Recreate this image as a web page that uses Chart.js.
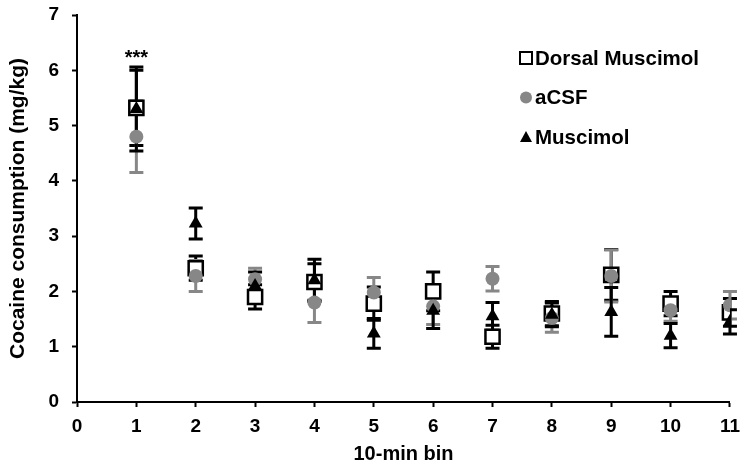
<!DOCTYPE html>
<html>
<head>
<meta charset="utf-8">
<script src="https://cdn.jsdelivr.net/npm/chart.js@4"></script>
<style>
  html, body { margin: 0; padding: 0; background: #fff; }
  #wrap { width: 748px; height: 470px; }
</style>
</head>
<body>
<div id="wrap"><canvas id="cocaineChart"></canvas></div>
<script>
// values
const bins = [1, 2, 3, 4, 5, 6, 7, 8, 9, 10, 11];
const dorsalMean = [5.32, 2.42, 1.90, 2.17, 1.78, 2.00, 1.18, 1.60, 2.30, 1.78, 1.62];
const dorsalErr  = [0.68, 0.22, 0.22, 0.33, 0.30, 0.35, 0.21, 0.22, 0.46, 0.22, 0.25];
const acsfMean   = [4.80, 2.28, 2.22, 1.80, 1.98, 1.73, 2.23, 1.52, 2.28, 1.66, 1.75];
const acsfErr    = [0.65, 0.28, 0.20, 0.36, 0.27, 0.33, 0.22, 0.26, 0.47, 0.20, 0.25];
const muscMean   = [5.30, 3.23, 2.10, 2.20, 1.24, 1.65, 1.55, 1.58, 1.63, 1.20, 1.45];
const muscErr    = [0.76, 0.28, 0.25, 0.38, 0.27, 0.32, 0.25, 0.22, 0.44, 0.22, 0.22];
const xTicks = [0, 1, 2, 3, 4, 5, 6, 7, 8, 9, 10, 11];
const yTicks = [0, 1, 2, 3, 4, 5, 6, 7];
const sigLabel = '***';
const sigBin = 1;
const sigY = 6.22;

const FONT = '"Liberation Sans", Arial, sans-serif';
const GREY = '#878787';

function pts(means) {
    return bins.map((b, i) => ({ x: b, y: means[i] }));
}

// error bars drawn under the markers
const errorBars = {
    id: 'errorBars',
    beforeDatasetsDraw(chart) {
        const ctx = chart.ctx;
        const xs = chart.scales.x, ys = chart.scales.y;
        const sets = [
            { m: dorsalMean, e: dorsalErr, c: '#000' },
            { m: acsfMean, e: acsfErr, c: GREY },
            { m: muscMean, e: muscErr, c: '#000' }
        ];
        ctx.save();
        ctx.lineWidth = 3;
        sets.forEach(s => {
            ctx.strokeStyle = s.c;
            bins.forEach((b, i) => {
                const px = xs.getPixelForValue(b);
                const top = ys.getPixelForValue(s.m[i] + s.e[i]);
                const bot = ys.getPixelForValue(s.m[i] - s.e[i]);
                ctx.beginPath();
                ctx.moveTo(px, top); ctx.lineTo(px, bot);
                ctx.moveTo(px - 7, top); ctx.lineTo(px + 7, top);
                ctx.moveTo(px - 7, bot); ctx.lineTo(px + 7, bot);
                ctx.stroke();
            });
        });
        ctx.restore();
    },
    afterDatasetsDraw(chart) {
        const ctx = chart.ctx;
        ctx.save();
        ctx.fillStyle = '#000';
        ctx.font = 'bold 20px ' + FONT;
        ctx.textAlign = 'center';
        ctx.textBaseline = 'middle';
        ctx.fillText(sigLabel, chart.scales.x.getPixelForValue(sigBin), chart.scales.y.getPixelForValue(sigY));
        ctx.restore();
    }
};

// legend in the top right corner
const cornerLegend = {
    id: 'cornerLegend',
    afterDraw(chart) {
        const ctx = chart.ctx;
        const items = [
            { t: 'Dorsal Muscimol', s: 'rect' },
            { t: 'aCSF', s: 'circle' },
            { t: 'Muscimol', s: 'triangle' }
        ];
        const mx = 526, tx = 535;
        ctx.save();
        ctx.font = 'bold 20.5px ' + FONT;
        ctx.textBaseline = 'middle';
        items.forEach((it, i) => {
            const y = 58 + i * 39.5;
            if (it.s === 'rect') {
                ctx.fillStyle = '#fff';
                ctx.strokeStyle = '#000';
                ctx.lineWidth = 2;
                ctx.fillRect(mx - 6, y - 6, 12, 12);
                ctx.strokeRect(mx - 6, y - 6, 12, 12);
            } else if (it.s === 'circle') {
                ctx.fillStyle = GREY;
                ctx.beginPath();
                ctx.arc(mx, y, 6, 0, Math.PI * 2);
                ctx.fill();
            } else {
                ctx.fillStyle = '#000';
                ctx.beginPath();
                ctx.moveTo(mx, y - 6);
                ctx.lineTo(mx + 6, y + 5);
                ctx.lineTo(mx - 6, y + 5);
                ctx.closePath();
                ctx.fill();
            }
            ctx.fillStyle = '#000';
            ctx.fillText(it.t, tx, y + 1);
        });
        ctx.restore();
    }
};

const ctx = document.getElementById('cocaineChart').getContext('2d');
const myChart = new Chart(ctx, {
    type: 'scatter',
    data: {
        datasets: [{
            label: 'Dorsal Muscimol',
            data: pts(dorsalMean),
            pointStyle: 'rect',
            pointRadius: 10,
            pointBackgroundColor: '#fff',
            pointBorderColor: '#000',
            pointBorderWidth: 2.5,
            order: 3
        }, {
            label: 'aCSF',
            data: pts(acsfMean),
            pointStyle: 'circle',
            pointRadius: 7,
            pointBackgroundColor: GREY,
            pointBorderColor: GREY,
            pointBorderWidth: 0,
            order: 2
        }, {
            label: 'Muscimol',
            data: pts(muscMean),
            pointStyle: 'triangle',
            pointRadius: 8,
            pointBackgroundColor: '#000',
            pointBorderColor: '#000',
            pointBorderWidth: 0,
            order: 1
        }]
    },
    options: {
        responsive: true,
        maintainAspectRatio: false,
        animation: false,
        layout: { padding: { top: 15, right: 17, left: 0, bottom: 0 } },
        plugins: {
            legend: { display: false },
            tooltip: { enabled: false }
        },
        scales: {
            x: {
                type: 'linear',
                min: 0,
                max: 11,
                afterBuildTicks: axis => { axis.ticks = xTicks.map(v => ({ value: v })); },
                afterFit: axis => { axis.height = 68; },
                grid: { display: true, drawOnChartArea: false, drawTicks: true, tickLength: 5, tickWidth: 2, tickColor: '#000' },
                border: { color: '#000', width: 2 },
                ticks: { color: '#000', font: { family: FONT, size: 19, weight: 'bold' }, padding: 8, maxRotation: 0 },
                title: { display: true, text: '10-min bin', color: '#000', font: { family: FONT, size: 20, weight: 'bold' }, padding: { top: 0, bottom: 4 } }
            },
            y: {
                type: 'linear',
                min: 0,
                max: 7,
                afterBuildTicks: axis => { axis.ticks = yTicks.map(v => ({ value: v })); },
                afterFit: axis => { axis.width = 77; axis.paddingTop = 0; axis.paddingBottom = 0; },
                grid: { display: true, drawOnChartArea: false, drawTicks: true, tickLength: 5, tickWidth: 2, tickColor: '#000' },
                border: { color: '#000', width: 2 },
                ticks: { color: '#000', font: { family: FONT, size: 19, weight: 'bold' }, padding: 13 },
                title: { display: true, text: 'Cocaine consumption (mg/kg)', color: '#000', font: { family: FONT, size: 21, weight: 'bold' }, padding: { top: 6, bottom: 0 } }
            }
        }
    },
    plugins: [errorBars, cornerLegend]
});
</script>
</body>
</html>
